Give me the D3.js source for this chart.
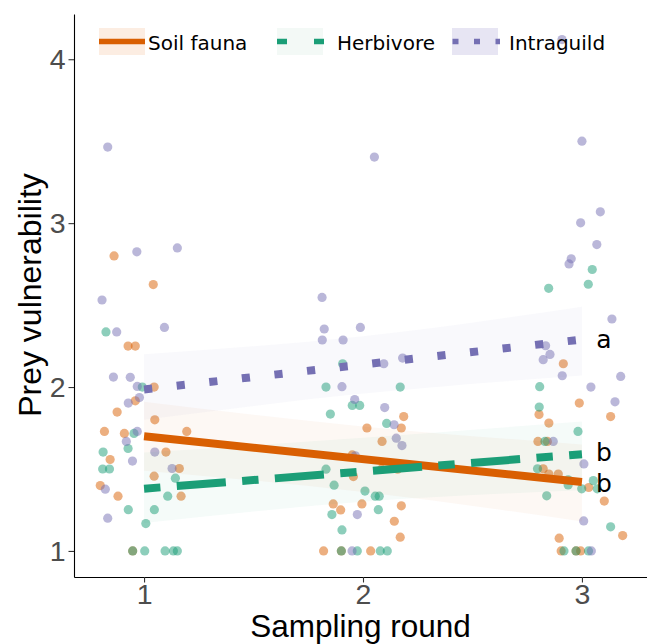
<!DOCTYPE html>
<html>
<head>
<meta charset="utf-8">
<script src="https://cdn.jsdelivr.net/npm/d3@7"></script>
<style>
  body { margin: 0; background: #fff; }
  svg { display: block; }
</style>
</head>
<body>
<div class="svg-container"></div>
<script>
(function() {
  'use strict';

  // groups, in legend order
  var groups = ['Soil fauna', 'Herbivore', 'Intraguild'];
  var colors = ['#D95F02', '#1B9E77', '#7570B3'];

  // jittered observations [sampling round, prey vulnerability]
  var soilFauna = [
    [0.863, 2.80], [1.042, 2.625], [0.927, 2.25], [0.960, 2.25], [1.046, 2.00],
    [0.960, 1.916], [0.877, 1.847], [1.049, 1.80], [0.819, 1.729], [0.910, 1.717],
    [1.195, 1.729], [0.845, 1.558], [1.100, 1.603], [1.161, 1.503], [0.800, 1.399],
    [0.881, 1.334], [1.046, 1.456], [1.169, 1.334], [0.948, 1.00],
    [2.186, 1.82], [2.018, 1.75], [2.175, 1.75], [2.087, 1.668], [1.951, 1.586],
    [1.956, 1.454], [2.084, 1.499], [2.158, 1.499], [1.864, 1.287], [1.898, 1.25],
    [1.995, 1.287], [2.175, 1.275], [2.143, 1.181], [2.170, 1.084], [1.820, 1.00],
    [1.901, 1.00], [2.035, 1.00],
    [2.915, 2.142], [2.988, 1.902], [3.131, 1.82], [2.804, 1.833], [2.849, 1.78],
    [2.799, 1.668], [2.842, 1.668], [2.823, 1.501], [2.849, 1.469], [2.892, 1.469],
    [3.031, 1.387], [3.102, 1.304], [2.896, 1.078], [3.186, 1.094], [2.905, 1.00],
    [2.973, 1.00], [2.994, 1.00]
  ];
  var herbivore = [
    [0.826, 2.336], [0.992, 2.00], [0.954, 1.717], [0.927, 1.625], [0.813, 1.603],
    [0.811, 1.50], [0.842, 1.50], [1.143, 1.444], [1.108, 1.334], [0.928, 1.252],
    [1.047, 1.252], [1.008, 1.167], [0.948, 1.00], [1.003, 1.00], [1.096, 1.00],
    [1.134, 1.00], [1.152, 1.00],
    [1.907, 2.142], [1.831, 2.00], [2.170, 2.00], [1.851, 1.835], [1.951, 1.888],
    [1.985, 1.888], [2.108, 1.778], [1.831, 1.499], [1.868, 1.401], [2.009, 1.365],
    [2.056, 1.334], [2.074, 1.334], [2.070, 1.252], [1.858, 1.222], [1.904, 1.128],
    [1.901, 1.00], [1.974, 1.00], [2.079, 1.00], [2.111, 1.00],
    [3.047, 2.717], [3.029, 2.627], [2.848, 2.602], [2.807, 2.002], [2.805, 1.878],
    [2.982, 1.729], [2.831, 1.668], [2.797, 1.501], [2.937, 1.434], [2.937, 1.403],
    [3.052, 1.429], [2.999, 1.379], [3.070, 1.379], [2.839, 1.336], [3.131, 1.147],
    [2.918, 1.00], [2.973, 1.00], [3.030, 1.00]
  ];
  var intraguild = [
    [0.834, 3.464], [0.967, 2.825], [1.152, 2.849], [0.808, 2.531], [0.875, 2.336],
    [1.093, 2.364], [0.860, 2.061], [0.937, 2.059], [0.969, 2.004], [0.928, 1.902],
    [0.979, 1.936], [0.969, 1.729], [0.919, 1.668], [0.947, 1.548], [1.049, 1.603],
    [1.128, 1.503], [0.823, 1.377], [0.834, 1.20],
    [2.052, 3.403], [1.813, 2.547], [1.823, 2.354], [1.814, 2.287], [1.909, 2.287],
    [1.988, 2.364], [2.095, 2.142], [2.181, 2.177], [1.904, 2.002], [1.962, 1.924],
    [2.099, 1.875], [2.142, 1.77], [2.152, 1.688], [2.178, 1.643], [1.965, 1.58],
    [1.974, 1.222], [1.950, 1.00],
    [2.909, 4.12], [3.000, 3.50], [3.084, 3.069], [2.994, 3.002], [3.068, 2.869],
    [2.951, 2.782], [2.941, 2.751], [3.137, 2.415], [2.834, 2.252], [2.854, 2.199],
    [2.823, 2.167], [2.910, 2.069], [3.177, 2.065], [3.041, 2.00], [3.151, 1.91],
    [2.869, 1.668], [3.009, 1.531], [3.008, 1.183], [3.043, 1.00]
  ];

  // fitted lines [round, fit] and confidence bands [round, lower, upper]
  var soilFit = [[1, 1.70], [3, 1.42]];
  var herbFit = [[1, 1.38], [3, 1.59]];
  var intraFit = [[1, 1.985], [3, 2.29]];
  var soilBand = [[1, 1.49, 1.91], [2, 1.36, 1.76], [3, 1.18, 1.65]];
  var herbBand = [[1, 1.17, 1.60], [2, 1.30, 1.69], [3, 1.37, 1.79]];
  var intraBand = [[1, 1.80, 2.20], [2, 1.96, 2.31], [3, 2.07, 2.49]];

  // significance letters next to line ends
  var letters = [['a', 2.29], ['b', 1.60], ['b', 1.41]];

  var xTicks = [1, 2, 3];
  var yTicks = [1, 2, 3, 4];

  var points = [soilFauna, herbivore, intraguild];
  var fits = [soilFit, herbFit, intraFit];
  var bands = [soilBand, herbBand, intraBand];
  var dashes = [null, '16.4,16.4,49.2,16.4', '8.2,24.6'];
  var keyDashes = [null, '10,27', '6,15.5'];
  var keyFills = ['#fcede2', '#f3f9f6', '#e7e5f3'];

  var width = 647, height = 644;
  var sans = '"Liberation Sans", Arial, sans-serif';
  var dejavu = '"DejaVu Sans", sans-serif';

  var svg = d3.select('.svg-container')
    .append('svg')
    .attr('width', width)
    .attr('height', height);

  var x = d3.scaleLinear().domain([0.68, 3.32]).range([74, 652]);
  var y = d3.scaleLinear().domain([0.841, 4.276]).range([577, 14]);

  // points first, ribbons and lines over them
  points.forEach(function(pts, i) {
    svg.append('g')
      .selectAll('circle')
      .data(pts)
      .enter()
      .append('circle')
      .attr('cx', function(d) { return x(d[0]); })
      .attr('cy', function(d) { return y(d[1]); })
      .attr('r', 4.6)
      .style('fill', colors[i])
      .style('fill-opacity', 0.5);
  });

  var area = d3.area()
    .x(function(d) { return x(d[0]); })
    .y0(function(d) { return y(d[1]); })
    .y1(function(d) { return y(d[2]); })
    .curve(d3.curveMonotoneX);

  bands.forEach(function(b, i) {
    svg.append('path')
      .datum(b)
      .attr('d', area)
      .style('fill', colors[i])
      .style('fill-opacity', 0.045);
  });

  var line = d3.line()
    .x(function(d) { return x(d[0]); })
    .y(function(d) { return y(d[1]); });

  fits.forEach(function(f, i) {
    svg.append('path')
      .datum(f)
      .attr('d', line)
      .style('fill', 'none')
      .style('stroke', colors[i])
      .style('stroke-width', 8)
      .style('stroke-dasharray', dashes[i]);
  });

  svg.append('g')
    .selectAll('text')
    .data(letters)
    .enter()
    .append('text')
    .attr('x', x(3.1))
    .attr('y', function(d) { return y(d[1]); })
    .attr('dy', '0.35em')
    .attr('text-anchor', 'middle')
    .style('font-family', dejavu)
    .style('font-size', '25px')
    .style('fill', '#000')
    .text(function(d) { return d[0]; });

  // axes
  var xAxis = svg.append('g')
    .attr('transform', 'translate(0,577)')
    .call(d3.axisBottom(x).tickValues(xTicks).tickFormat(d3.format('d'))
      .tickSize(5.5).tickSizeOuter(0).tickPadding(1));
  var yAxis = svg.append('g')
    .attr('transform', 'translate(74,0)')
    .call(d3.axisLeft(y).tickValues(yTicks).tickFormat(d3.format('d'))
      .tickSize(5.5).tickSizeOuter(0).tickPadding(3));

  [xAxis, yAxis].forEach(function(ax) {
    ax.select('.domain').style('stroke', '#000').style('stroke-width', 1.1);
    ax.selectAll('.tick line').style('stroke', '#333').style('stroke-width', 1.1);
    ax.selectAll('.tick text')
      .style('font-family', sans)
      .style('font-size', '28.5px')
      .style('fill', '#4d4d4d');
  });

  svg.append('text')
    .attr('x', 360.5)
    .attr('y', 637)
    .attr('text-anchor', 'middle')
    .style('font-family', sans)
    .style('font-size', '31.5px')
    .style('fill', '#000')
    .text('Sampling round');

  svg.append('text')
    .attr('transform', 'translate(41,295) rotate(-90)')
    .attr('text-anchor', 'middle')
    .style('font-family', sans)
    .style('font-size', '32px')
    .style('fill', '#000')
    .text('Prey vulnerability');

  // legend
  var keyX = [99, 277, 452];
  var labelX = [148, 337, 509];
  var keyStart = [99, 277, 452.5];
  var keyEnd = [145, 324, 500];

  groups.forEach(function(g, i) {
    var key = svg.append('g');
    key.append('rect')
      .attr('x', keyX[i])
      .attr('y', 28)
      .attr('width', 46)
      .attr('height', 27)
      .style('fill', keyFills[i]);
    key.append('line')
      .attr('x1', keyStart[i])
      .attr('x2', keyEnd[i])
      .attr('y1', 41.5)
      .attr('y2', 41.5)
      .style('stroke', colors[i])
      .style('stroke-width', 5.5)
      .style('stroke-dasharray', keyDashes[i]);
    key.append('text')
      .attr('x', labelX[i])
      .attr('y', 49.5)
      .style('font-family', dejavu)
      .style('font-size', '20px')
      .style('fill', '#000')
      .text(g);
  });

})();
</script>
</body>
</html>
